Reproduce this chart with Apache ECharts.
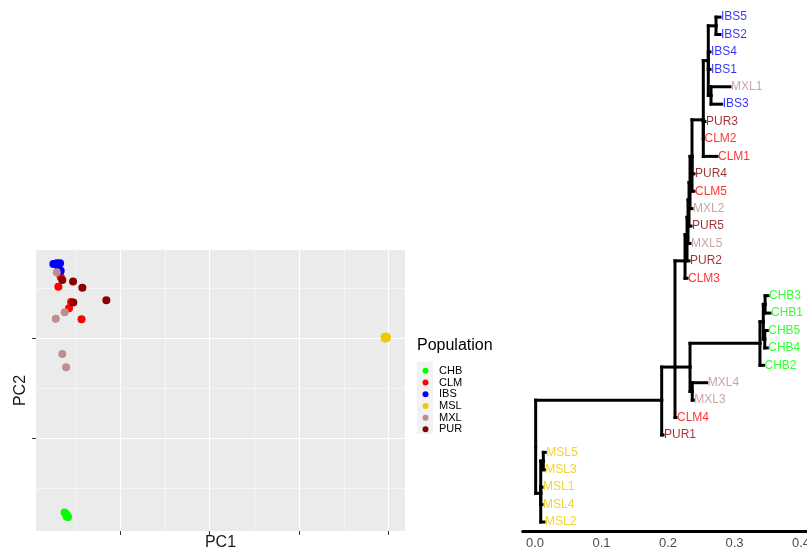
<!DOCTYPE html>
<html>
<head>
<meta charset="utf-8">
<script src="https://cdn.jsdelivr.net/npm/echarts@6.0.0/dist/echarts.min.js"></script>
<style>
  html, body { margin: 0; padding: 0; background: #fff; }
  #chart { width: 807px; height: 552px; }
</style>
</head>
<body>
<div id="chart"></div>
<script>
// PCA points, one pair of arrays per population
const populations = ['CHB', 'CLM', 'IBS', 'MSL', 'MXL', 'PUR'];
const popColors = ['#00FF00', '#FF0000', '#0000FF', '#EEC900', '#BC8F8F', '#8B0000'];

const chbX = [0.380, 0.397, 0.408, 0.419, 0.402];
const chbY = [0.255, 0.240, 0.225, 0.210, 0.215];
const clmX = [0.337, 0.311, 0.453, 0.430, 0.570];
const clmY = [2.610, 2.513, 2.360, 2.297, 2.187];
const ibsX = [0.255, 0.293, 0.330, 0.311, 0.337];
const ibsY = [2.740, 2.747, 2.747, 2.713, 2.673];
const mslX = [3.955, 3.972, 3.983, 3.961, 3.975];
const mslY = [2.010, 2.015, 2.005, 1.995, 2.000];
const mxlX = [0.293, 0.382, 0.282, 0.355, 0.397];
const mxlY = [2.657, 2.257, 2.193, 1.840, 1.707];
const purX = [0.355, 0.475, 0.579, 0.478, 0.847];
const purY = [2.580, 2.565, 2.503, 2.355, 2.378];

const pcaX = [chbX, clmX, ibsX, mslX, mxlX, purX];
const pcaY = [chbY, clmY, ibsY, mslY, mxlY, purY];

// ggplot style grid lines of the PCA panel
const pc1Major = [1, 2, 3, 4];
const pc1Minor = [0.5, 1.5, 2.5, 3.5];
const pc2Major = [1, 2];
const pc2Minor = [0.5, 1.5, 2.5];

// tree: [node, parent, distance from root, row (1 = bottom tip)]
const treeNodes = [
  ['root', null, 0.001, 5.3],
  ['M', 'root', 0.0086, 2.65],
  ['P', 'M', 0.0125, 4.5],
  ['MSL5', 'P', 0.0155, 5], ['MSL3', 'P', 0.014, 4],
  ['MSL1', 'M', 0.0105, 3], ['MSL4', 'M', 0.0105, 2], ['MSL2', 'M', 0.0135, 1],
  ['N1', 'root', 0.1905, 8],
  ['PUR1', 'N1', 0.1925, 6],
  ['N2', 'N1', 0.2105, 9.9],
  ['CLM4', 'N2', 0.212, 7],
  ['N4', 'N2', 0.2331, 9.9],
  ['Q', 'N4', 0.2365, 8.5],
  ['MXL4', 'Q', 0.2582, 9], ['MXL3', 'Q', 0.238, 8],
  ['C0', 'N4', 0.3383, 11.26],
  ['CHB2', 'C0', 0.3436, 10],
  ['C1', 'C0', 0.3433, 12.5],
  ['C2', 'C1', 0.346, 13.5], ['CHB3', 'C2', 0.3504, 14], ['CHB1', 'C2', 0.3534, 13],
  ['C3', 'C1', 0.3455, 11.5], ['CHB5', 'C3', 0.3493, 12], ['CHB4', 'C3', 0.3493, 11],
  ['N3', 'N2', 0.2256, 16],
  ['CLM3', 'N3', 0.2286, 15],
  ['L1', 'N3', 0.2286, 17.5],
  ['PUR2', 'L1', 0.2316, 16],
  ['L2', 'L1', 0.2301, 18.5],
  ['MXL5', 'L2', 0.2331, 17],
  ['L3', 'L2', 0.2316, 19.5],
  ['PUR5', 'L3', 0.2346, 18],
  ['L4', 'L3', 0.2331, 20.5],
  ['MXL2', 'L4', 0.2361, 19],
  ['S', 'L4', 0.2361, 22],
  ['CLM5', 'S', 0.2391, 20], ['PUR4', 'S', 0.2391, 21],
  ['T', 'S', 0.2531, 24.1],
  ['CLM1', 'T', 0.2737, 22], ['CLM2', 'T', 0.2534, 23], ['PUR3', 'T', 0.2556, 24],
  ['U', 'T', 0.2606, 27.5],
  ['U2', 'U', 0.2647, 25.5], ['IBS3', 'U2', 0.2807, 25], ['MXL1', 'U2', 0.2932, 26],
  ['IBS1', 'U', 0.2632, 27], ['IBS4', 'U', 0.2632, 28],
  ['U1', 'U', 0.2722, 29.5], ['IBS2', 'U1', 0.2782, 29], ['IBS5', 'U1', 0.2782, 30]
];
const treeTicks = [0, 0.1, 0.2, 0.3, 0.4];

// build segments (rectangular layout) and tip labels from the node table
const byName = {};
treeNodes.forEach(n => { byName[n[0]] = n; });
const hasChild = {};
treeNodes.forEach(n => { if (n[1]) hasChild[n[1]] = true; });

const segments = [];
treeNodes.forEach(n => {
  if (!n[1]) return;
  const p = byName[n[1]];
  segments.push([p[2], n[3], n[2], n[3]]);   // horizontal edge
  segments.push([p[2], p[3], p[2], n[3]]);   // vertical at parent
});

const tips = treeNodes.filter(n => !hasChild[n[0]]).map(n => ({
  name: n[0],
  value: [n[2], n[3]],
  label: { color: popColors[populations.indexOf(n[0].slice(0, 3))] }
}));

const gridLines = [];
pc1Major.forEach(v => gridLines.push({ xAxis: v, lineStyle: { width: 1.1 } }));
pc1Minor.forEach(v => gridLines.push({ xAxis: v, lineStyle: { width: 0.5 } }));
pc2Major.forEach(v => gridLines.push({ yAxis: v, lineStyle: { width: 1.1 } }));
pc2Minor.forEach(v => gridLines.push({ yAxis: v, lineStyle: { width: 0.5 } }));

const font = 'Liberation Sans, Arial, sans-serif';

const pcaSeries = populations.map((p, i) => ({
  name: p,
  type: 'scatter',
  xAxisIndex: 0,
  yAxisIndex: 0,
  symbolSize: 8,
  z: 3,
  itemStyle: { color: popColors[i], opacity: 1 },
  data: pcaX[i].map((x, j) => [x, pcaY[i][j]])
}));

const option = {
  animation: false,
  textStyle: { fontFamily: font },
  title: {
    text: 'Population',
    left: 417,
    top: 338,
    padding: 0,
    textStyle: { fontSize: 16, fontWeight: 'normal', color: '#000', fontFamily: font }
  },
  legend: {
    data: populations,
    orient: 'vertical',
    left: 422.5,
    top: 365,
    padding: 0,
    itemWidth: 17,
    itemHeight: 6,
    itemGap: 0,
    icon: 'circle',
    textStyle: { fontSize: 11, lineHeight: 11.7, color: '#000', fontFamily: 'Liberation Sans Narrow, Liberation Sans, Arial' }
  },
  graphic: [{
    type: 'rect',
    shape: { x: 417, y: 362, width: 16, height: 72 },
    style: { fill: '#F2F2F2' },
    z: -1,
    silent: true
  }],
  grid: [
    { left: 36, top: 250, width: 369, height: 281, show: true, backgroundColor: '#EBEBEB', borderWidth: 0,
      outerBoundsMode: 'none' },
    { left: 522.7, top: 0, width: 291, height: 531.5, outerBoundsMode: 'none' }
  ],
  xAxis: [
    {
      gridIndex: 0, type: 'value', min: 0.061, max: 4.184,
      name: 'PC1', nameLocation: 'middle', nameGap: 4,
      nameTextStyle: { fontSize: 16, color: '#1A1A1A', verticalAlign: 'top' },
      axisLine: { show: false },
      axisTick: { show: true, length: 4, customValues: pc1Major, lineStyle: { color: '#333', width: 1 } },
      axisLabel: { show: false },
      splitLine: { show: false }
    },
    {
      gridIndex: 1, type: 'value', min: -0.0185, max: 0.4191,
      axisLine: { show: true, onZero: false, lineStyle: { color: '#000', width: 3 } },
      axisTick: { show: false },
      axisLabel: { show: true, customValues: treeTicks, margin: 5, fontSize: 13, color: '#4D4D4D',
        formatter: v => v.toFixed(1) },
      splitLine: { show: false }
    }
  ],
  yAxis: [
    {
      gridIndex: 0, type: 'value', min: 0.07, max: 2.88,
      name: 'PC2', nameLocation: 'middle', nameGap: 7,
      nameTextStyle: { fontSize: 16, color: '#1A1A1A' },
      axisLine: { show: false },
      axisTick: { show: true, length: 4, customValues: pc2Major, lineStyle: { color: '#333', width: 1 } },
      axisLabel: { show: false },
      splitLine: { show: false }
    },
    {
      gridIndex: 1, type: 'value', min: 0.4543, max: 30.983, show: false
    }
  ],
  series: [
    {
      type: 'scatter',
      xAxisIndex: 0,
      yAxisIndex: 0,
      symbolSize: 0,
      silent: true,
      z: 1,
      data: [[1, 1]],
      markLine: {
        silent: true,
        z: 1,
        symbol: 'none',
        label: { show: false },
        lineStyle: { color: '#FFFFFF', type: 'solid' },
        data: gridLines
      }
    },
    ...pcaSeries,
    {
      type: 'custom',
      xAxisIndex: 1,
      yAxisIndex: 1,
      silent: true,
      encode: { x: [0, 2], y: [1, 3] },
      data: segments,
      renderItem: function (params, api) {
        const a = api.coord([api.value(0), api.value(1)]);
        const b = api.coord([api.value(2), api.value(3)]);
        return {
          type: 'line',
          shape: { x1: a[0], y1: a[1], x2: b[0], y2: b[1] },
          style: { stroke: '#000', lineWidth: 3, lineCap: 'square' }
        };
      }
    },
    {
      type: 'scatter',
      xAxisIndex: 1,
      yAxisIndex: 1,
      symbolSize: 0,
      silent: true,
      label: {
        show: true,
        position: 'right',
        distance: 1,
        fontSize: 12,
        fontFamily: font,
        formatter: '{b}'
      },
      data: tips
    }
  ]
};

const chart = echarts.init(document.getElementById('chart'));
chart.setOption(option);
</script>
</body>
</html>
